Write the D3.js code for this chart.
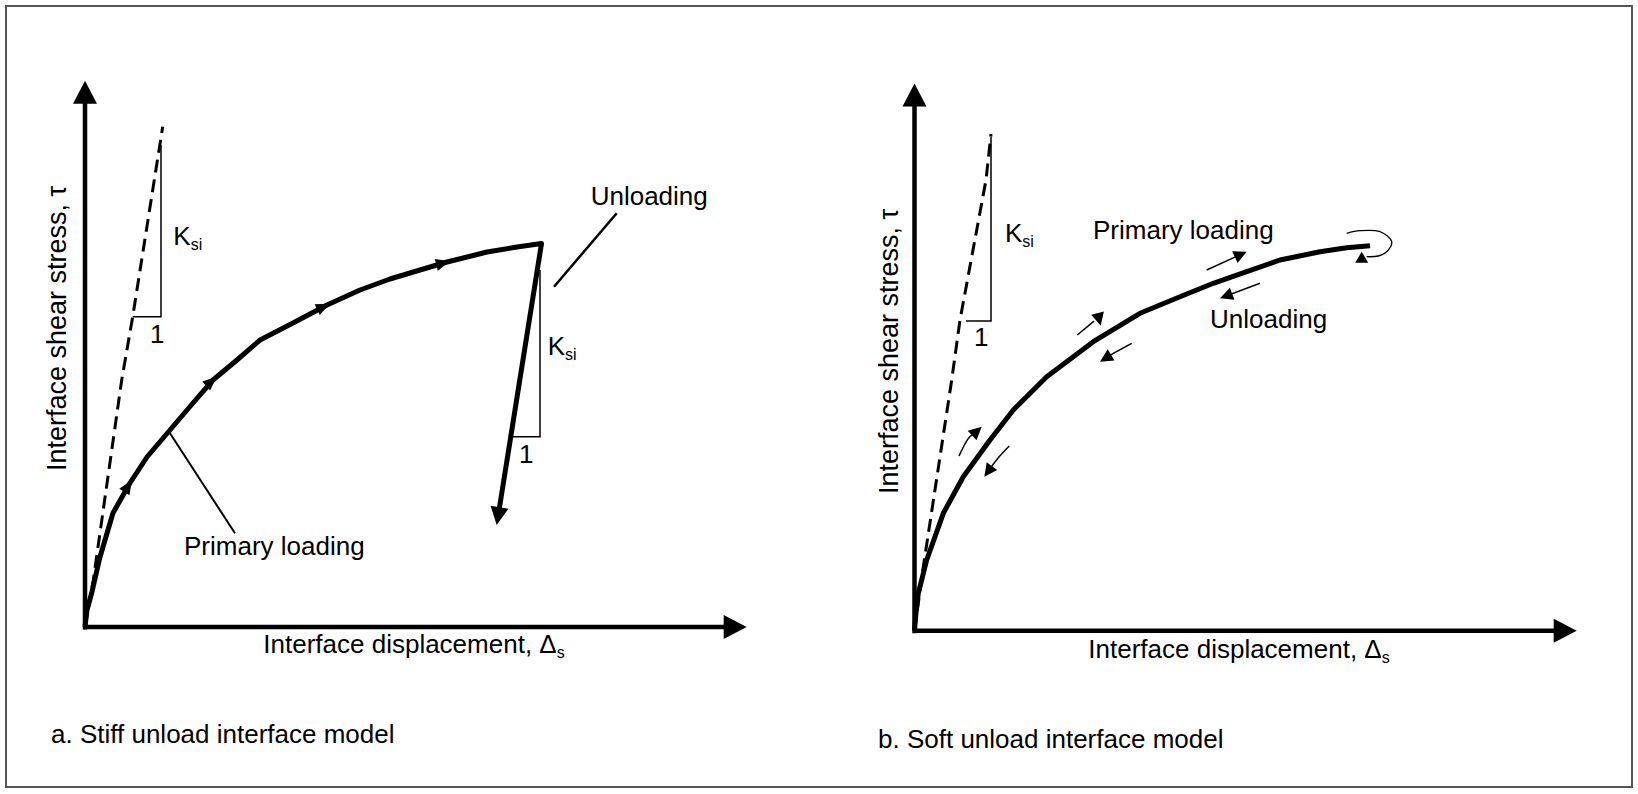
<!DOCTYPE html>
<html><head><meta charset="utf-8">
<script src="https://cdn.jsdelivr.net/npm/d3@7"></script>
<style>
html,body{margin:0;padding:0;background:#fff;}
svg{display:block;font-family:"Liberation Sans",Arial,sans-serif;}
</style></head><body>
<svg id="chart" width="1638" height="794"></svg>
<script>
// ---------- data (displacement, stress) in arbitrary units ----------
const captionA = "a. Stiff unload interface model";
const captionB = "b. Soft unload interface model";
const xLabelMain = "Interface displacement, ";
const xLabelSym = "\u0394";
const yLabel = "Interface shear stress, \u03c4";
const stiffnessLabel = "K";
const stiffnessSub = "si";

// panel a
const aPrimary = [[0,0],[0.2,1.7],[0.67,3.4],[1.5,7.0],[2.8,11.4],[4.5,14.4],[6.2,17.0],[8.5,19.7],
  [10.8,22.4],[12.8,24.7],[15.2,26.7],[17.5,28.7],[20.8,30.4],[24.2,32.2],[27.5,33.7],[30.5,34.8],
  [33.5,35.7],[36.2,36.5],[40.2,37.5],[43.2,38.0],[45.65,38.35]];
const aUnload = [[45.65,38.35],[41.17,10.2]];
const aInitial = [[0,0],[0.83,4.7],[3.67,24.7],[4.77,31.03],[7.77,50.03]];
const aDirTips = [[4.67,14.7],[13.2,25.0],[24.5,32.35],[36.48,36.62]];
const aSlope1 = [[4.77,31.03],[7.6,31.03],[7.6,48.2]];
const aSlope2 = [[42.7,19.03],[45.5,19.03],[45.5,35.7]];
const aLeaderUnload = [[53.17,41.37],[46.9,34.03]];
const aLeaderPrimary = [[8.5,19.37],[15.0,9.37]];

// panel b
const bPrimary = [[0,0],[0.15,1.87],[0.38,3.74],[1.22,7.07],[2.88,11.74],[4.88,15.4],[7.55,19.07],
  [9.88,22.07],[13.22,25.4],[17.88,28.9],[22.55,31.74],[26.55,33.4],[29.88,34.74],[33.22,35.9],
  [36.55,37.07],[40.55,37.9],[43.22,38.3],[45.55,38.5]];
const bInitial = [[0,0],[0.88,6.4],[3.72,25.07],[4.55,31.07],[7.15,45.07],[7.65,49.67]];
const bSlope = [[5.15,30.97],[7.65,30.97],[7.65,49.37]];
const bArrows = [
  {pts:[[4.45,17.47],[5.3,19.1],[6.72,20.4]]},
  {pts:[[9.48,18.47],[8.3,17.2],[6.98,15.4]]},
  {pts:[[16.28,29.57],[17.95,30.95]], tip:[18.62,30.5], dir:[0.25,-1]},
  {pts:[[21.72,28.74],[20.1,27.85],[18.55,26.9]]},
  {pts:[[29.22,36.07],[33.22,37.9]]},
  {pts:[[34.55,34.74],[30.55,33.24]]}
];
const bLoop = [[43.22,39.74],[44.55,40.0],[46.55,39.9],[47.72,38.9],[47.22,37.9],[46.38,37.47],[45.22,37.4]];
const bLoopTip = [44.72,37.9];

// ---------- drawing ----------
const svg = d3.select("#chart");
svg.append("rect").attr("x",6).attr("y",6).attr("width",1626).attr("height",781)
  .attr("fill","none").attr("stroke","#555").attr("stroke-width",2);

function makePanel(ox, oy, xTip, yTip) {
  const x = d3.scaleLinear().domain([0,(xTip-ox)/10]).range([ox,xTip]);
  const y = d3.scaleLinear().domain([0,(oy-yTip)/10]).range([oy,yTip]);
  return {x,y};
}
const A = makePanel(85, 627, 746.7, 80.7);
const B = makePanel(914.5, 630.7, 1576.7, 83.5);

function head(g, tx, ty, dx, dy, len, hw) {
  const n = Math.hypot(dx,dy); dx/=n; dy/=n;
  const bx = tx - dx*len, by = ty - dy*len;
  const px = -dy, py = dx;
  g.append("path").attr("d", `M${tx},${ty}L${bx+px*hw},${by+py*hw}L${bx-px*hw},${by-py*hw}Z`)
    .attr("fill","#000");
}

function axes(P) {
  const g = svg.append("g");
  const x0 = P.x(0), y0 = P.y(0);
  const xMax = P.x.domain()[1], yMax = P.y.domain()[1];
  const xs = d3.scaleLinear().domain([0,xMax]).range([x0-2, P.x(xMax)-15]);
  const ys = d3.scaleLinear().domain([0,yMax]).range([y0+2, P.y(yMax)+15]);
  g.append("g").attr("transform",`translate(0,${y0-0.5})`)
    .call(d3.axisBottom(xs).tickValues([]).tickSizeOuter(0));
  g.append("g").attr("transform",`translate(${x0-0.5},0)`)
    .call(d3.axisLeft(ys).tickValues([]).tickSizeOuter(0));
  g.selectAll(".domain").attr("stroke","#000").attr("stroke-width",4.5);
  head(g, P.x(xMax), y0, 1, 0, 23, 12);
  head(g, x0, P.y(yMax), 0, -1, 23, 12);
}
axes(A); axes(B);

function lineGen(P, curve) {
  return d3.line().x(d=>P.x(d[0])).y(d=>P.y(d[1])).curve(curve || d3.curveLinear);
}
function txt(g, x, y, main, sub, opt) {
  const t = g.append("text").attr("x",x).attr("y",y).attr("font-size",(opt && opt.size) || 26).attr("fill","#000");
  if (opt && opt.rotate) t.attr("transform",`rotate(-90,${x},${y})`);
  t.append("tspan").text(main);
  if (sub) t.append("tspan").attr("font-size",16).attr("dy",5).text(sub);
  return t;
}

// ----- panel a -----
const ga = svg.append("g");
ga.append("path").datum(aInitial).attr("d", lineGen(A))
  .attr("fill","none").attr("stroke","#000").attr("stroke-width",3).attr("stroke-dasharray","13,7");
const aPath = ga.append("path").datum(aPrimary).attr("d", lineGen(A))
  .attr("fill","none").attr("stroke","#000").attr("stroke-width",5).attr("stroke-linejoin","round");
{
  const p0 = [A.x(aUnload[0][0]), A.y(aUnload[0][1])], p1 = [A.x(aUnload[1][0]), A.y(aUnload[1][1])];
  const dx = p1[0]-p0[0], dy = p1[1]-p0[1], n = Math.hypot(dx,dy);
  ga.append("line").attr("x1",p0[0]).attr("y1",p0[1])
    .attr("x2",p1[0]-dx/n*14).attr("y2",p1[1]-dy/n*14)
    .attr("stroke","#000").attr("stroke-width",5).attr("stroke-linecap","round");
  head(ga, p1[0], p1[1], dx, dy, 18, 9);
}
function headsOnPath(g, node, P, tips, len, hw) {
  const total = node.getTotalLength();
  tips.forEach(t => {
    const tx = P.x(t[0]), ty = P.y(t[1]);
    let best = 0, bd = Infinity;
    for (let l = 0; l <= total; l += 0.5) {
      const p = node.getPointAtLength(l);
      const d = (p.x-tx)**2 + (p.y-ty)**2;
      if (d < bd) { bd = d; best = l; }
    }
    const p = node.getPointAtLength(best);
    const pa = node.getPointAtLength(Math.max(0,best-6)), pb = node.getPointAtLength(Math.min(total,best+6));
    head(g, p.x, p.y, pb.x-pa.x, pb.y-pa.y, len, hw);
  });
}
headsOnPath(ga, aPath.node(), A, aDirTips, 14, 6);
[aSlope1, aSlope2].forEach(s => ga.append("path").datum(s).attr("d", lineGen(A))
  .attr("fill","none").attr("stroke","#000").attr("stroke-width",1.5));
ga.append("path").datum(aLeaderUnload).attr("d", lineGen(A)).attr("stroke","#000").attr("stroke-width",2.5);
ga.append("path").datum(aLeaderPrimary).attr("d", lineGen(A)).attr("stroke","#000").attr("stroke-width",2);

txt(ga, A.x(8.83), A.y(38.2), stiffnessLabel, stiffnessSub);
txt(ga, A.x(6.5), A.y(28.4), "1");
txt(ga, A.x(46.27), A.y(27.2), stiffnessLabel, stiffnessSub);
txt(ga, A.x(43.4), A.y(16.4), "1");
txt(ga, A.x(50.57), A.y(42.2), "Unloading");
txt(ga, A.x(9.9), A.y(7.2), "Primary loading");
txt(ga, 263.3, 652.7, xLabelMain + xLabelSym, "s");
txt(ga, 65.5, 471, yLabel, null, {rotate:true, size:27});
txt(ga, 51, 743, captionA);

// ----- panel b -----
const gb = svg.append("g");
gb.append("path").datum(bInitial).attr("d", lineGen(B))
  .attr("fill","none").attr("stroke","#000").attr("stroke-width",3).attr("stroke-dasharray","13,7");
gb.append("path").datum(bPrimary).attr("d", lineGen(B))
  .attr("fill","none").attr("stroke","#000").attr("stroke-width",5).attr("stroke-linejoin","round");
gb.append("path").datum(bSlope).attr("d", lineGen(B))
  .attr("fill","none").attr("stroke","#000").attr("stroke-width",1.5);

bArrows.forEach(a => {
  const pts = a.pts.map(p => [B.x(p[0]), B.y(p[1])]);
  let tip, dir;
  if (a.tip) {
    tip = [B.x(a.tip[0]), B.y(a.tip[1])];
    dir = [a.dir[0], -a.dir[1]];
  } else {
    tip = pts[pts.length-1];
    const prev = pts[pts.length-2];
    dir = [tip[0]-prev[0], tip[1]-prev[1]];
    const n = Math.hypot(dir[0],dir[1]);
    pts[pts.length-1] = [tip[0]-dir[0]/n*10, tip[1]-dir[1]/n*10];
  }
  gb.append("path")
    .attr("d", d3.line().curve(d3.curveNatural)(pts))
    .attr("fill","none").attr("stroke","#000").attr("stroke-width",1.5);
  head(gb, tip[0], tip[1], dir[0], dir[1], 13, 6.5);
});
gb.append("path").datum(bLoop).attr("d", lineGen(B, d3.curveCatmullRom))
  .attr("fill","none").attr("stroke","#000").attr("stroke-width",1.3);
head(gb, B.x(bLoopTip[0]), B.y(bLoopTip[1]), 0, -1, 11, 6.5);

txt(gb, B.x(9.05), B.y(38.9), stiffnessLabel, stiffnessSub);
txt(gb, B.x(5.95), B.y(28.5), "1");
txt(gb, B.x(17.85), B.y(39.14), "Primary loading");
txt(gb, B.x(29.55), B.y(30.24), "Unloading");
txt(gb, 1088.3, 658, xLabelMain + xLabelSym, "s");
txt(gb, 898, 494, yLabel, null, {rotate:true, size:27});
txt(gb, 878, 748, captionB);
</script>
</body></html>
